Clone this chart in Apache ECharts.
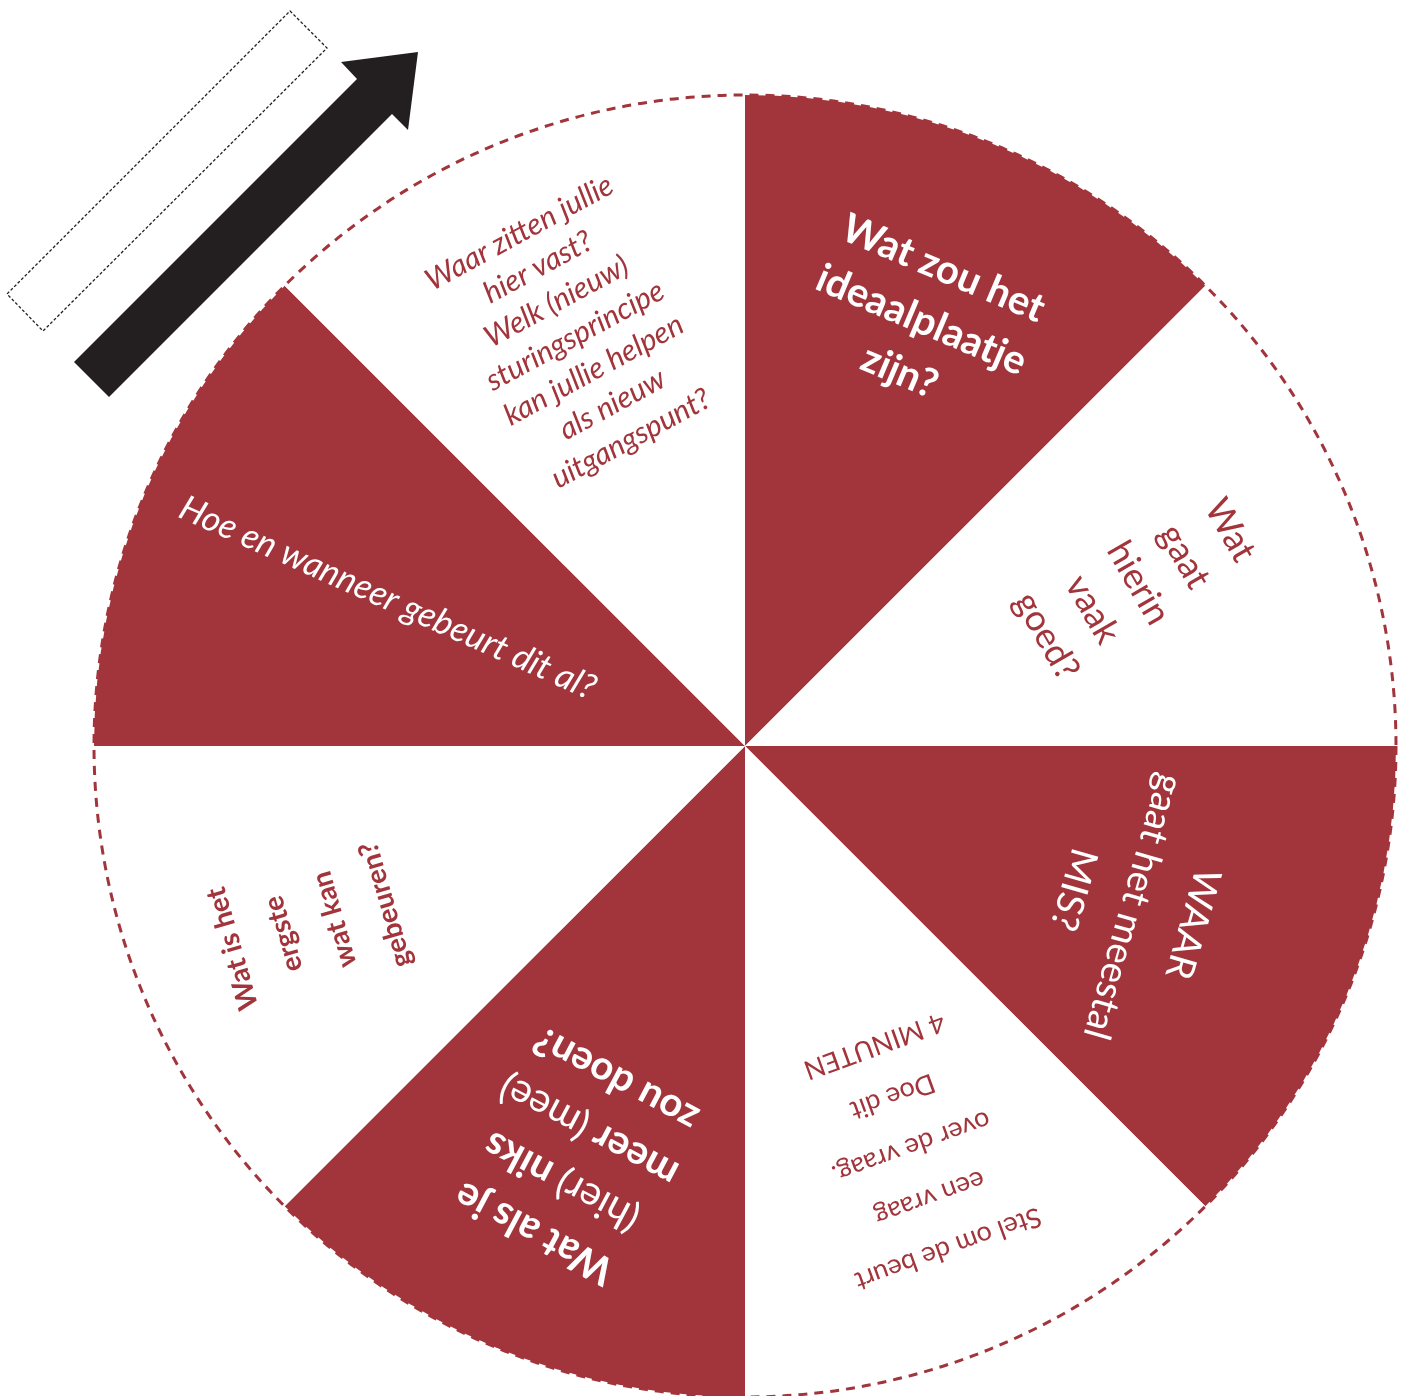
<!DOCTYPE html>
<html>
<head>
<meta charset="utf-8">
<script src="https://cdn.jsdelivr.net/npm/echarts@6/dist/echarts.min.js"></script>
<style>
html,body{margin:0;padding:0;background:#ffffff;}
#chart{width:1408px;height:1396px;}
</style>
</head>
<body>
<div id="chart"></div>
<script>
// ---- data ----
const sliceQuestions = [
  'Wat zou het ideaalplaatje zijn?',
  'Wat gaat hierin vaak goed?',
  'WAAR gaat het meestal MIS?',
  'Stel om de beurt een vraag over de vraag. Doe dit 4 MINUTEN',
  'Wat als je (hier) niks meer (mee) zou doen?',
  'Wat is het ergste wat kan gebeuren?',
  'Hoe en wanneer gebeurt dit al?',
  'Waar zitten jullie hier vast? Welk (nieuw) sturingsprincipe kan jullie helpen als nieuw uitgangspunt?'
];
const sliceShare = [1, 1, 1, 1, 1, 1, 1, 1];
const sliceFilled = [true, false, true, false, true, false, true, false];
const sliceLines = [
  ['Wat zou het', 'ideaalplaatje', 'zijn?'],
  ['Wat', 'gaat', 'hierin', 'vaak', 'goed?'],
  ['WAAR', 'gaat het meestal', 'MIS?'],
  ['Stel om de beurt', 'een vraag', 'over de vraag.', 'Doe dit', '4 MINUTEN'],
  ['{b|Wat als je}', '{r|(hier)} {b|niks}', '{b|meer} {r|(mee)}', '{b|zou doen?}'],
  ['Wat is het', 'ergste', 'wat kan', 'gebeuren?'],
  ['Hoe en wanneer gebeurt dit al?'],
  ['Waar zitten jullie', 'hier vast?', 'Welk (nieuw)', 'sturingsprincipe', 'kan jullie helpen', 'als nieuw', 'uitgangspunt?']
];
// label distance from the centre, in % of the wheel radius (radius axis 0..100)
const labelDistance = [70.8, 65.4, 64.5, 66.7, 68.2, 72.5, 59.4, 68.2];

// ---- styles ----
const RED = '#A2353B';
const WHITE = '#FFFFFF';
const FONT = 'Lato, "Noto Sans", sans-serif';
const labelStyles = [
  {rotate: -23, fontSize: 40, lineHeight: 56, fontWeight: 'bold'},
  {rotate: -60, fontSize: 36, lineHeight: 53, fontWeight: 'normal'},
  {rotate: -106, fontSize: 38, lineHeight: 62, fontWeight: 'normal'},
  {rotate: -160, fontSize: 27, lineHeight: 54, fontWeight: 'normal'},
  {rotate: 152, fontSize: 40, lineHeight: 58, fontWeight: 'bold'},
  {rotate: 106, fontSize: 28, lineHeight: 53, fontWeight: 'bold'},
  {rotate: -24, fontSize: 35, lineHeight: 44, fontWeight: 'normal', fontStyle: 'italic'},
  {rotate: 28.5, fontSize: 30, lineHeight: 39, fontWeight: 'normal', fontStyle: 'italic'}
];

const CENTER = [745, 746];
const RADIUS = 651;

const pieData = sliceQuestions.map((q, i) => ({
  name: q,
  value: sliceShare[i],
  itemStyle: {color: sliceFilled[i] ? RED : WHITE}
}));

const labelData = sliceQuestions.map((q, i) => {
  const st = labelStyles[i];
  const col = sliceFilled[i] ? WHITE : RED;
  return {
    name: q,
    value: [labelDistance[i], i],
    label: {
      show: true,
      position: 'inside',
      formatter: sliceLines[i].join('\n'),
      rotate: st.rotate,
      color: col,
      opacity: 1,
      fontFamily: FONT,
      fontSize: st.fontSize,
      lineHeight: st.lineHeight,
      fontWeight: st.fontWeight,
      fontStyle: st.fontStyle || 'normal',
      align: 'center',
      verticalAlign: 'middle',
      rich: {
        b: {color: col, fontFamily: FONT, fontSize: st.fontSize, lineHeight: st.lineHeight, fontWeight: 'bold'},
        r: {color: col, fontFamily: FONT, fontSize: st.fontSize, lineHeight: st.lineHeight, fontWeight: 'normal'}
      }
    }
  };
});

const chart = echarts.init(document.getElementById('chart'), null, {renderer: 'canvas'});
chart.setOption({
  animation: false,
  backgroundColor: '#ffffff',
  polar: {center: CENTER, radius: [0, RADIUS]},
  angleAxis: {
    type: 'category',
    data: sliceQuestions,
    startAngle: 90,
    clockwise: true,
    z: 3,
    axisLine: {show: true, lineStyle: {color: RED, width: 3, type: [9, 7]}},
    axisTick: {show: false},
    axisLabel: {show: false},
    splitLine: {show: false}
  },
  radiusAxis: {
    type: 'value', min: 0, max: 100,
    axisLine: {show: false}, axisTick: {show: false},
    axisLabel: {show: false}, splitLine: {show: false}
  },
  graphic: [
    {
      type: 'polygon', silent: true, z: 10,
      shape: {points: [[74, 362], [109, 397], [392, 114], [408, 130], [418, 52], [341, 62], [357, 79]]},
      style: {fill: '#231F20'}
    },
    {
      type: 'polygon', silent: true, z: 10,
      shape: {points: [[290, 11], [327, 48], [43, 331], [7, 294]]},
      style: {fill: 'none', stroke: '#231F20', lineWidth: 1.3, lineDash: [3, 2]}
    }
  ],
  series: [
    {
      type: 'pie',
      silent: true,
      z: 1,
      center: CENTER,
      radius: [0, RADIUS],
      startAngle: 90,
      clockwise: true,
      label: {show: false},
      labelLine: {show: false},
      itemStyle: {borderWidth: 0},
      data: pieData
    },
    {
      type: 'scatter',
      coordinateSystem: 'polar',
      silent: true,
      z: 5,
      symbolSize: 2,
      itemStyle: {color: 'rgba(0,0,0,0)'},
      data: labelData
    }
  ]
});
</script>
</body>
</html>
